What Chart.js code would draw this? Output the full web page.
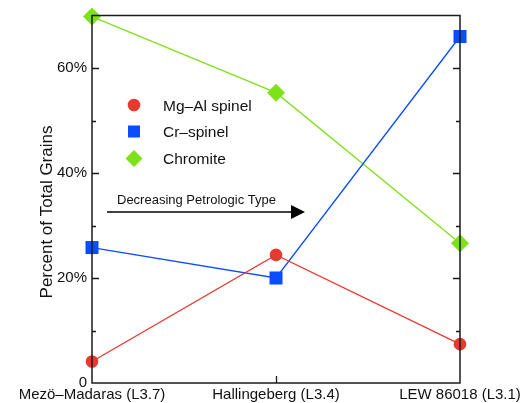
<!DOCTYPE html>
<html>
<head>
<meta charset="utf-8">
<script src="https://cdn.jsdelivr.net/npm/chart.js@4/dist/chart.umd.min.js"></script>
<style>
html,body{margin:0;padding:0;background:#fff;}
#wrap{width:526px;height:403px;position:relative;}
</style>
</head>
<body>
<div id="wrap"><canvas id="c" width="526" height="403"></canvas></div>
<script>
const categories = ['Mezö–Madaras (L3.7)', 'Hallingeberg (L3.4)', 'LEW 86018 (L3.1)'];
const mgAlSpinel = [4.1, 24.4, 7.4];
const crSpinel = [25.8, 20.0, 66.0];
const chromite = [69.8, 55.3, 26.6];
const seriesNames = ['Mg–Al spinel', 'Cr–spinel', 'Chromite'];
const yTickValues = [0, 20, 40, 60];
const yTitle = 'Percent of Total Grains';
const arrowLabel = 'Decreasing Petrologic Type';

const RED = '#e8392f', BLUE = '#0a4dff', GREEN = '#7fe11a';
const FONT = '"Liberation Sans", Arial, Helvetica, sans-serif';

const decorPlugin = {
  id: 'decor',
  afterDatasetsDraw(chart) {
    const ctx = chart.ctx, a = chart.chartArea;
    const y = chart.scales.y, x = chart.scales.x;
    ctx.save();
    // box
    ctx.strokeStyle = '#1a1a1a';
    ctx.lineWidth = 1.5;
    ctx.strokeRect(a.left, a.top, a.right - a.left, a.bottom - a.top);
    // y ticks inward (both sides)
    ctx.lineWidth = 1.3;
    for (let v = 10; v < 70; v += 10) {
      const py = Math.round(y.getPixelForValue(v)) + 0.5;
      const len = (v % 20 === 0) ? 7 : 4;
      ctx.beginPath();
      ctx.moveTo(a.left, py); ctx.lineTo(a.left + len, py);
      ctx.moveTo(a.right, py); ctx.lineTo(a.right - len, py);
      ctx.stroke();
    }
    // x tick (middle category) inward
    for (let i = 1; i < categories.length - 1; i++) {
      const px = Math.round(x.getPixelForValue(i)) + 0.5;
      ctx.beginPath();
      ctx.moveTo(px, a.bottom); ctx.lineTo(px, a.bottom - 7);
      ctx.stroke();
    }
    ctx.restore();
  },
  afterDraw(chart) {
    const ctx = chart.ctx;
    ctx.save();
    // y title
    ctx.fillStyle = '#111';
    ctx.font = '17px ' + FONT;
    ctx.textAlign = 'center';
    ctx.textBaseline = 'middle';
    ctx.translate(47, 212);
    ctx.rotate(-Math.PI / 2);
    ctx.fillText(yTitle, 0, 0);
    ctx.restore();

    // legend
    ctx.save();
    const colors = [RED, BLUE, GREEN];
    const ys = [105, 131.5, 158.5];
    const mx = 134;
    ctx.font = '15.5px ' + FONT;
    ctx.textAlign = 'left';
    ctx.textBaseline = 'alphabetic';
    seriesNames.forEach((name, i) => {
      ctx.fillStyle = colors[i];
      ctx.beginPath();
      if (i === 0) {
        ctx.arc(mx, ys[i], 6.3, 0, Math.PI * 2);
      } else if (i === 1) {
        ctx.rect(mx - 6, ys[i] - 6, 12, 12);
      } else {
        ctx.moveTo(mx, ys[i] - 8.5); ctx.lineTo(mx + 8.5, ys[i]);
        ctx.lineTo(mx, ys[i] + 8.5); ctx.lineTo(mx - 8.5, ys[i]);
        ctx.closePath();
      }
      ctx.fill();
      ctx.fillStyle = '#111';
      ctx.fillText(name, 163, ys[i] + 5.7);
    });
    // arrow
    ctx.font = '13px ' + FONT;
    ctx.fillText(arrowLabel, 117, 203.5);
    ctx.strokeStyle = '#000';
    ctx.lineWidth = 1.5;
    ctx.beginPath();
    ctx.moveTo(107, 212); ctx.lineTo(293, 212);
    ctx.stroke();
    ctx.fillStyle = '#000';
    ctx.beginPath();
    ctx.moveTo(305, 212); ctx.lineTo(291, 205); ctx.lineTo(291, 219);
    ctx.closePath();
    ctx.fill();
    ctx.restore();
  }
};

new Chart(document.getElementById('c'), {
  type: 'line',
  data: {
    labels: categories,
    datasets: [
      { label: seriesNames[0], data: mgAlSpinel, borderColor: RED, backgroundColor: RED,
        pointStyle: 'circle', pointRadius: 6.3, pointBorderWidth: 0, borderWidth: 1.3, clip: false },
      { label: seriesNames[1], data: crSpinel, borderColor: BLUE, backgroundColor: BLUE,
        pointStyle: 'rect', pointRadius: 9.2, pointBorderWidth: 0, borderWidth: 1.3, clip: false },
      { label: seriesNames[2], data: chromite, borderColor: GREEN, backgroundColor: GREEN,
        pointStyle: 'rectRot', pointRadius: 9, pointBorderWidth: 0, borderWidth: 1.3, clip: false }
    ]
  },
  options: {
    responsive: false,
    animation: false,
    layout: { padding: { top: 15.5, right: 66, left: 0, bottom: 0 } },
    plugins: { legend: { display: false }, tooltip: { enabled: false } },
    elements: { line: { tension: 0 } },
    scales: {
      x: {
        type: 'category',
        offset: false,
        grid: { display: false, drawTicks: false },
        border: { display: false },
        ticks: { font: { size: 15, family: FONT }, color: '#111', padding: 3, maxRotation: 0, autoSkip: false },
        afterFit(s) { s.height = 20; }
      },
      y: {
        min: 0, max: 70,
        grid: { display: false, drawTicks: false },
        border: { display: false },
        afterBuildTicks(s) { s.ticks = yTickValues.map(v => ({ value: v })); },
        ticks: {
          font: { size: 15, family: FONT }, color: '#111', padding: 5,
          callback: v => (v === 0 ? '0' : v + '%')
        },
        afterFit(s) { s.width = 92; }
      }
    }
  },
  plugins: [decorPlugin]
});
</script>
</body>
</html>
